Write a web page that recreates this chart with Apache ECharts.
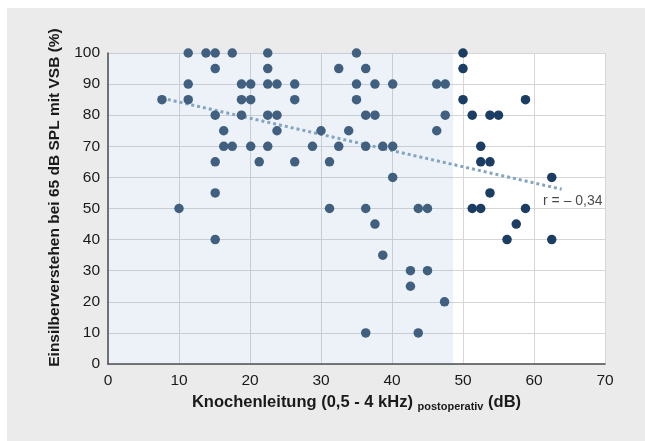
<!DOCTYPE html>
<html>
<head>
<meta charset="utf-8">
<script src="https://cdn.jsdelivr.net/npm/echarts@6/dist/echarts.min.js"></script>
<style>
html,body{margin:0;padding:0;background:#fff;}
#chart{width:645px;height:441px;}
</style>
</head>
<body>
<div id="chart"></div>
<script>
// Bone conduction (dB) vs. monosyllable understanding (%)
const xTicks = [0, 10, 20, 30, 40, 50, 60, 70];
const yTicks = [0, 10, 20, 30, 40, 50, 60, 70, 80, 90, 100];

// patients in shaded region (bone conduction below ~48.6 dB)
const pointsShaded = [
  [11.3,100],[13.8,100],[15.1,100],[17.5,100],[22.5,100],[35,100],
  [15.1,95],[22.5,95],[32.5,95],[36.3,95],
  [11.3,90],[18.8,90],[20.1,90],[22.5,90],[23.8,90],[26.3,90],[35,90],[37.6,90],[40.1,90],[46.3,90],[47.5,90],
  [7.6,85],[11.3,85],[18.8,85],[20.1,85],[26.3,85],[35,85],
  [15.1,80],[18.8,80],[22.5,80],[23.8,80],[36.3,80],[37.6,80],[47.5,80],
  [16.3,75],[23.8,75],[30,75],[33.9,75],[46.3,75],
  [16.3,70],[17.5,70],[20.1,70],[22.5,70],[28.8,70],[32.5,70],[36.3,70],[38.7,70],[40.1,70],
  [15.1,65],[21.3,65],[26.3,65],[31.2,65],
  [40.1,60],
  [15.1,55],
  [10,50],[31.2,50],[36.3,50],[43.7,50],[45,50],
  [37.6,45],
  [15.1,40],
  [38.7,35],
  [42.6,30],[45,30],
  [42.6,25],
  [47.4,20],
  [36.3,10],[43.7,10]
];
// patients beyond the shaded region
const pointsOuter = [
  [50,100],[50,95],[50,85],[58.8,85],[51.3,80],[53.8,80],[55,80],
  [52.5,70],[52.5,65],[53.8,65],[62.5,60],[53.8,55],
  [51.3,50],[52.5,50],[58.8,50],[57.5,45],[56.2,40],[62.5,40]
];
// regression line end points
const trendLine = [[7.6,85.5],[63.9,56.2]];
const shadedRange = [0, 48.6];
const rText = 'r = – 0,34';
const rAnchor = [[61.2, 52.4]];

const chart = echarts.init(document.getElementById('chart'));
const FONT = '"Liberation Sans", Arial, sans-serif';
chart.setOption({
  backgroundColor: '#ebebeb',
  animation: false,
  graphic: [
    {type:'rect', shape:{x:0,y:0,width:645,height:8}, style:{fill:'#ffffff'}, silent:true},
    {type:'rect', shape:{x:0,y:0,width:7,height:441}, style:{fill:'#ffffff'}, silent:true}
  ],
  grid: {left:108, right:40, top:53, bottom:77, show:true, backgroundColor:'#ffffff', borderWidth:0},
  xAxis: {
    type:'value', min:xTicks[0], max:xTicks[xTicks.length-1], interval:10,
    name:'{a|Knochenleitung (0,5 - 4 kHz) }{s|postoperativ}{a| (dB)}',
    nameLocation:'middle', nameGap:26,
    nameTextStyle:{
      rich:{
        a:{fontFamily:FONT, fontWeight:'bold', fontSize:16.5, color:'#1a1a1a', lineHeight:20, verticalAlign:'middle'},
        s:{fontFamily:FONT, fontWeight:'bold', fontSize:11, color:'#1a1a1a', lineHeight:20, verticalAlign:'bottom', padding:[6,0,0,0]}
      }
    },
    axisLine:{show:true, onZero:false, lineStyle:{color:'#4d4d4d', width:1.5}},
    axisTick:{show:false},
    axisLabel:{fontFamily:FONT, fontSize:15.5, color:'#1a1a1a', margin:9},
    splitLine:{show:true, lineStyle:{color:'#d6d6d6', width:1}}
  },
  yAxis: {
    type:'value', min:yTicks[0], max:yTicks[yTicks.length-1], interval:10,
    name:'Einsilberverstehen bei 65 dB SPL mit VSB (%)',
    nameLocation:'middle', nameGap:45, nameRotate:90,
    nameTextStyle:{fontFamily:FONT, fontWeight:'bold', fontSize:15.5, color:'#1a1a1a', padding:[0,0,0,22]},
    axisLine:{show:true, onZero:false, lineStyle:{color:'#4d4d4d', width:1.5}},
    axisTick:{show:false},
    axisLabel:{fontFamily:FONT, fontSize:15.5, color:'#1a1a1a', margin:8},
    splitLine:{show:true, lineStyle:{color:'#d6d6d6', width:1}}
  },
  series: [
    {
      type:'line', data:trendLine, symbol:'none', z:2,
      lineStyle:{type:'dotted', width:3, color:'#84a4c2'},
      markArea:{silent:true, itemStyle:{color:'rgba(75,125,185,0.1)'},
        data:[[{xAxis:shadedRange[0]},{xAxis:shadedRange[1]}]]}
    },
    {
      type:'scatter', data:pointsShaded, symbolSize:9.5, z:3,
      itemStyle:{color:'#41607f', opacity:1}
    },
    {
      type:'scatter', data:pointsOuter, symbolSize:9.5, z:3,
      itemStyle:{color:'#1c3d63', opacity:1}
    },
    {
      type:'scatter', data:rAnchor, symbolSize:1, z:4, silent:true,
      itemStyle:{color:'rgba(0,0,0,0)'},
      label:{show:true, position:'right', distance:0, formatter:rText, fontFamily:FONT, fontSize:14, color:'#1a1a1a'}
    }
  ]
});
</script>
</body>
</html>
